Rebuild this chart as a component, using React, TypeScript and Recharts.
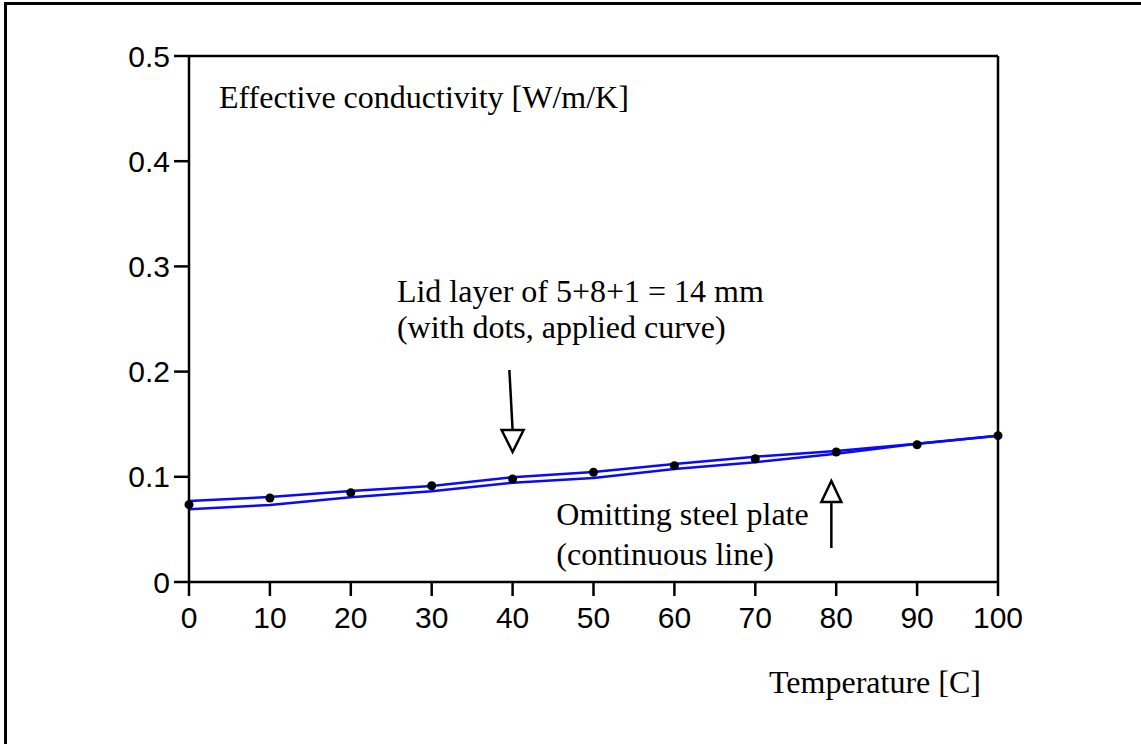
import React from 'react';
import { LineChart, Line, XAxis, YAxis, ReferenceLine, ReferenceDot } from 'recharts';

// Temperature [C]
const temperatures = [0, 10, 20, 30, 40, 50, 60, 70, 80, 90, 100];
// Lid layer of 5+8+1 = 14 mm (applied curve)
const lidLayer = [0.077, 0.0808, 0.0865, 0.0913, 0.0995, 0.1046, 0.1122, 0.1191, 0.1245, 0.1315, 0.1391];
// Omitting steel plate (continuous line)
const omittingPlate = [0.0691, 0.0732, 0.0805, 0.0862, 0.0944, 0.0989, 0.1074, 0.1138, 0.122, 0.1315, 0.1391];
// Dots
const dotValues = [0.0735, 0.0798, 0.0849, 0.0915, 0.0979, 0.1043, 0.1106, 0.1172, 0.1236, 0.1305, 0.1391];

const xTicks = [0, 10, 20, 30, 40, 50, 60, 70, 80, 90, 100];
const yTicks = [0, 0.1, 0.2, 0.3, 0.4, 0.5];

const annotations = [
  { x: 3.7, y: 0.4506, text: 'Effective conductivity [W/m/K]' },
  { x: 25.7, y: 0.2664, text: 'Lid layer of 5+8+1 = 14 mm' },
  { x: 25.7, y: 0.2319, text: '(with dots, applied curve)' },
  { x: 45.4, y: 0.0542, text: 'Omitting steel plate' },
  { x: 45.4, y: 0.0162, text: '(continuous line)' },
  { x: 71.7, y: -0.1055, text: 'Temperature [C]' },
];

const arrows = [
  { from: { x: 39.6, y: 0.2015 }, to: { x: 40.0, y: 0.1445 }, tip: { x: 40.0, y: 0.1236 }, dir: 'down' },
  { from: { x: 79.4, y: 0.0323 }, to: { x: 79.4, y: 0.075 }, tip: { x: 79.4, y: 0.096 }, dir: 'up' },
];

const data = temperatures.map((t, i) => ({
  t,
  lid: lidLayer[i],
  omit: omittingPlate[i],
  dots: dotValues[i],
}));

const SERIF = '"Liberation Serif", "Times New Roman", serif';
const SANS = '"Liberation Sans", Arial, sans-serif';
const BLUE = '#0a0af5';

const makeTextShape = (text: string) => (props: any) => (
  <text x={props.cx} y={props.cy} fontFamily={SERIF} fontSize={32} fill="#000" textAnchor="start">
    {text}
  </text>
);

const makeHead = (dir: string) => (props: any) => {
  const { cx, cy } = props;
  const pts =
    dir === 'down'
      ? `${cx},${cy} ${cx - 11},${cy - 22} ${cx + 11},${cy - 22}`
      : `${cx},${cy} ${cx - 10},${cy + 21} ${cx + 10},${cy + 21}`;
  return <polygon points={pts} fill="#fff" stroke="#000" strokeWidth={2.5} strokeLinejoin="miter" />;
};

export default function App() {
  return (
    <div
      style={{
        position: 'absolute',
        left: 0,
        top: 0,
        width: 1141,
        height: 744,
        overflow: 'hidden',
        background: '#fff',
      }}
    >
      <div
        style={{
          position: 'absolute',
          left: 4,
          top: 2,
          width: 2000,
          height: 2000,
          borderLeft: '3px solid #000',
          borderTop: '3px solid #000',
        }}
      />
      <div style={{ position: 'absolute', left: 0, top: 0 }}>
        <LineChart
          width={1141}
          height={744}
          data={data}
          margin={{ top: 56, right: 143, bottom: 122, left: 129 }}
        >
          <XAxis
            dataKey="t"
            type="number"
            domain={[0, 100]}
            ticks={xTicks}
            height={40}
            tickSize={14}
            tickMargin={11}
            axisLine={{ stroke: '#000', strokeWidth: 2.5 }}
            tickLine={{ stroke: '#000', strokeWidth: 2.5 }}
            tick={{ fill: '#000', fontFamily: SANS, fontSize: 30 }}
            interval={0}
          />
          <YAxis
            type="number"
            domain={[0, 0.5]}
            ticks={yTicks}
            width={60}
            tickSize={15}
            tickMargin={4}
            axisLine={{ stroke: '#000', strokeWidth: 2.5 }}
            tickLine={{ stroke: '#000', strokeWidth: 2.5 }}
            tick={{ fill: '#000', fontFamily: SANS, fontSize: 30 }}
            interval={0}
          />
          <ReferenceLine y={0.5} stroke="#000" strokeWidth={2.5} ifOverflow="visible" />
          <ReferenceLine x={100} stroke="#000" strokeWidth={2.5} ifOverflow="visible" />
          <Line
            dataKey="lid"
            stroke={BLUE}
            strokeWidth={2.5}
            dot={false}
            activeDot={false}
            type="linear"
            isAnimationActive={false}
          />
          <Line
            dataKey="omit"
            stroke={BLUE}
            strokeWidth={2.5}
            dot={false}
            activeDot={false}
            type="linear"
            isAnimationActive={false}
          />
          <Line
            dataKey="dots"
            stroke="none"
            dot={{ r: 4.5, fill: '#000', stroke: '#000', strokeWidth: 0 }}
            activeDot={false}
            isAnimationActive={false}
          />
          {arrows.map((a, i) => (
            <ReferenceLine
              key={`shaft-${i}`}
              segment={[a.from, a.to]}
              stroke="#000"
              strokeWidth={2.5}
              ifOverflow="visible"
            />
          ))}
          {arrows.map((a, i) => (
            <ReferenceDot
              key={`head-${i}`}
              x={a.tip.x}
              y={a.tip.y}
              ifOverflow="visible"
              shape={makeHead(a.dir)}
            />
          ))}
          {annotations.map((a, i) => (
            <ReferenceDot
              key={`txt-${i}`}
              x={a.x}
              y={a.y}
              ifOverflow="visible"
              shape={makeTextShape(a.text)}
            />
          ))}
        </LineChart>
      </div>
    </div>
  );
}
